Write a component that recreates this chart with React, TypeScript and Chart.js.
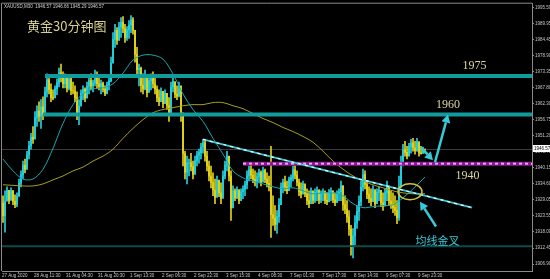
import React, { useEffect, useRef } from 'react';
import { Chart, registerables } from 'chart.js';
Chart.register(...registerables);

// ---- axis data ----
const xTickIdx = [-0.5, 15.5, 31.5, 47.5, 63.5, 79.5, 95.5, 111.5, 127.5, 143.5, 159.5, 175.5, 191.5, 207.5];
const xTickLabels = ['27 Aug 2020', '28 Aug 11:30', '31 Aug 04:30', '31 Aug 20:30', '1 Sep 13:30', '2 Sep 06:30', '2 Sep 22:30', '3 Sep 15:30', '4 Sep 08:30', '7 Sep 01:30', '7 Sep 17:30', '8 Sep 14:30', '9 Sep 07:30', '9 Sep 23:30'];
const yTickValues = [1995.5, 1989.95, 1984.45, 1978.9, 1973.35, 1967.8, 1962.3, 1956.75, 1951.2, 1945.7, 1940.15, 1934.6, 1929.05, 1923.55, 1918.0, 1912.45, 1906.9];
const yMin = 1904.51;
const yMax = 1996.87;
const xMin = -0.5;
const xMax = 264.5;

// ---- candles (XAUUSD M30) ----
const firstOpen = 1928.0;
const high = [
  1930.5, 1932.2, 1933.6, 1932.2, 1933.25, 1932.2, 1930.85, 1931.5, 1936.3, 1939.1,
  1942.5, 1943.2, 1945.9, 1949.3, 1952.1, 1954.45, 1959.6, 1961.6, 1963.0, 1963.7,
  1964.7, 1968.1, 1972.6, 1971.55, 1969.2, 1967.1, 1968.5, 1970.9, 1974.6, 1976.0,
  1973.3, 1972.6, 1971.55, 1972.2, 1971.2, 1969.8, 1968.5, 1966.4, 1963.7, 1967.1,
  1968.5, 1967.8, 1969.8, 1971.9, 1972.6, 1970.5, 1973.9, 1973.3, 1971.9, 1970.5,
  1969.8, 1968.5, 1969.8, 1971.2, 1978.4, 1986.9, 1989.7, 1988.65, 1990.4, 1992.1,
  1992.4, 1989.7, 1989.0, 1991.0, 1992.75, 1992.1, 1987.6, 1981.8, 1976.0, 1975.0,
  1972.6, 1973.9, 1970.5, 1971.55, 1972.6, 1973.3, 1971.9, 1968.5, 1967.1, 1967.8,
  1966.4, 1967.1, 1965.7, 1964.4, 1969.8, 1971.2, 1969.2, 1968.5, 1969.8, 1968.1,
  1957.9, 1945.9, 1944.2, 1943.2, 1945.2, 1942.5, 1944.2, 1945.9, 1946.6, 1948.6,
  1950.0, 1949.3, 1945.9, 1942.5, 1940.8, 1938.4, 1936.3, 1937.35, 1935.6, 1935.0,
  1939.1, 1942.5, 1945.9, 1942.5, 1939.1, 1933.9, 1932.9, 1933.6, 1932.2, 1932.9,
  1933.9, 1935.6, 1939.1, 1940.8, 1941.45, 1939.7, 1939.1, 1938.4, 1939.7, 1939.1,
  1940.4, 1939.7, 1938.4, 1937.35, 1947.6, 1930.5, 1927.1, 1925.4, 1929.5, 1935.0,
  1936.3, 1937.35, 1935.6, 1937.0, 1937.7, 1940.8, 1941.45, 1939.1, 1936.3, 1935.0,
  1935.6, 1934.3, 1932.9, 1932.2, 1933.25, 1932.2, 1932.9, 1933.6, 1932.6, 1932.2,
  1932.9, 1932.2, 1931.5, 1932.6, 1933.25, 1932.2, 1931.5, 1932.2, 1932.9, 1935.6,
  1933.9, 1930.5, 1928.8, 1925.4, 1920.25, 1919.2, 1923.7, 1927.1, 1930.5, 1935.6,
  1939.7, 1939.1, 1935.6, 1933.6, 1932.9, 1933.9, 1932.2, 1932.9, 1933.6, 1932.2,
  1931.5, 1932.9, 1935.6, 1933.6, 1932.2, 1931.5, 1930.5, 1928.8, 1937.35, 1944.2,
  1948.3, 1949.3, 1947.6, 1948.6, 1950.0, 1950.35, 1949.3, 1950.35, 1948.6, 1947.6,
  1947.3, 1946.66,
];
const low = [
  1921.3, 1917.9, 1928.8, 1927.8, 1929.5, 1927.4, 1926.4, 1926.75, 1930.5, 1933.6,
  1936.3, 1938.4, 1940.8, 1943.2, 1946.6, 1948.6, 1951.0, 1954.45, 1956.2, 1953.8,
  1956.8, 1961.3, 1964.7, 1965.7, 1963.0, 1963.7, 1964.4, 1965.4, 1968.1, 1969.8,
  1967.8, 1967.8, 1966.4, 1967.1, 1965.4, 1965.7, 1963.0, 1956.8, 1955.1, 1962.3,
  1963.7, 1963.0, 1964.4, 1965.7, 1967.1, 1966.4, 1968.5, 1967.8, 1967.1, 1965.7,
  1966.4, 1965.05, 1965.7, 1967.1, 1969.8, 1977.4, 1981.8, 1982.8, 1984.2, 1985.2,
  1986.9, 1983.5, 1984.2, 1984.9, 1986.9, 1986.3, 1976.7, 1971.55, 1968.5, 1966.4,
  1965.7, 1967.1, 1964.7, 1966.4, 1967.1, 1967.8, 1965.7, 1963.0, 1961.6, 1963.0,
  1960.95, 1962.3, 1960.3, 1956.2, 1963.0, 1966.4, 1964.4, 1963.7, 1964.7, 1956.2,
  1940.8, 1936.3, 1934.6, 1937.35, 1939.1, 1936.3, 1938.4, 1940.8, 1941.8, 1943.2,
  1945.2, 1942.5, 1939.1, 1935.6, 1933.25, 1930.5, 1927.8, 1931.5, 1930.2, 1927.8,
  1932.2, 1936.3, 1939.1, 1935.6, 1922.0, 1927.1, 1928.8, 1929.5, 1927.8, 1928.8,
  1929.5, 1930.5, 1932.9, 1935.6, 1936.3, 1935.0, 1933.9, 1933.25, 1935.0, 1933.9,
  1935.6, 1935.0, 1933.6, 1932.2, 1916.15, 1920.25, 1918.5, 1917.5, 1921.3, 1928.8,
  1931.5, 1932.2, 1931.2, 1932.9, 1933.6, 1935.6, 1936.3, 1933.9, 1930.5, 1929.8,
  1931.5, 1930.2, 1927.4, 1926.4, 1928.8, 1927.8, 1928.1, 1928.8, 1927.8, 1928.1,
  1928.8, 1927.8, 1927.4, 1928.45, 1928.8, 1928.1, 1927.1, 1928.1, 1928.8, 1928.8,
  1925.4, 1924.35, 1921.3, 1916.8, 1910.0, 1909.0, 1913.4, 1919.2, 1922.0, 1927.1,
  1932.2, 1932.9, 1929.5, 1928.1, 1927.1, 1928.8, 1926.4, 1928.1, 1928.8, 1926.75,
  1925.4, 1927.4, 1928.8, 1927.1, 1926.1, 1924.7, 1923.7, 1920.9, 1922.0, 1933.9,
  1940.8, 1944.2, 1943.2, 1944.2, 1945.2, 1945.9, 1944.9, 1945.9, 1944.2, 1944.9,
  1945.2, 1945.29,
];
const close = [
  1923.6, 1928.6, 1932.4, 1928.9, 1932.3, 1928.6, 1927.5, 1930.3, 1934.9, 1937.7,
  1941.0, 1939.6, 1944.6, 1947.8, 1950.7, 1950.1, 1957.5, 1959.8, 1957.9, 1961.2,
  1958.8, 1966.4, 1970.6, 1967.2, 1964.5, 1964.3, 1967.5, 1969.5, 1973.0, 1971.4,
  1969.2, 1971.4, 1967.7, 1970.9, 1966.8, 1966.7, 1964.4, 1959.2, 1961.5, 1965.9,
  1967.3, 1964.2, 1968.4, 1970.3, 1968.5, 1969.5, 1972.5, 1969.2, 1968.3, 1969.3,
  1967.3, 1965.9, 1968.8, 1970.2, 1976.3, 1984.5, 1987.7, 1984.3, 1988.8, 1990.4,
  1988.3, 1985.1, 1987.8, 1989.5, 1991.3, 1987.7, 1979.4, 1974.1, 1974.5, 1968.6,
  1967.4, 1972.2, 1966.2, 1970.3, 1971.2, 1969.2, 1967.3, 1964.4, 1963.0, 1966.6,
  1962.3, 1965.9, 1961.7, 1958.2, 1968.1, 1970.0, 1965.6, 1964.9, 1968.5, 1959.2,
  1945.1, 1938.7, 1941.8, 1941.9, 1940.6, 1937.9, 1942.7, 1944.6, 1945.4, 1947.3,
  1948.8, 1944.2, 1940.8, 1937.3, 1935.1, 1932.5, 1929.9, 1935.9, 1931.5, 1929.6,
  1937.4, 1941.0, 1944.2, 1937.3, 1926.3, 1932.2, 1929.8, 1932.6, 1928.9, 1931.9,
  1932.8, 1934.3, 1937.5, 1939.5, 1937.6, 1936.2, 1935.2, 1937.1, 1938.5, 1935.2,
  1939.2, 1936.2, 1934.8, 1933.5, 1924.0, 1922.8, 1920.6, 1923.4, 1927.4, 1933.5,
  1935.1, 1933.5, 1932.3, 1936.0, 1936.7, 1939.5, 1937.6, 1935.2, 1932.0, 1931.1,
  1934.6, 1931.2, 1928.8, 1927.8, 1932.1, 1928.9, 1931.7, 1932.4, 1929.0, 1931.2,
  1931.9, 1928.9, 1928.4, 1931.6, 1932.1, 1929.1, 1928.2, 1931.2, 1931.9, 1933.9,
  1927.5, 1925.9, 1923.2, 1919.0, 1912.6, 1916.6, 1921.1, 1925.1, 1928.4, 1933.5,
  1937.8, 1934.4, 1931.0, 1929.5, 1928.5, 1932.6, 1927.8, 1931.7, 1932.4, 1928.1,
  1926.9, 1931.5, 1933.9, 1928.7, 1927.6, 1926.4, 1925.4, 1922.9, 1933.5, 1941.6,
  1946.4, 1945.5, 1944.3, 1947.5, 1948.8, 1947.0, 1946.0, 1949.2, 1945.3, 1945.1,
  1946.6, 1946.57,
];

// ---- moving averages (sampled every 5 bars) ----
const maIdx = [0, 5, 10, 15, 20, 25, 30, 35, 40, 45, 50, 55, 60, 65, 70, 75, 80, 85, 90, 95, 100, 105, 110, 115, 120, 125, 130, 135, 140, 145, 150, 155, 160, 165, 170, 175, 180, 185, 190, 195, 200, 205, 211];
const maFast = [1943.2, 1939.1, 1936.3, 1936.3, 1939.7, 1946.9, 1955.5, 1962.0, 1965.7, 1967.4, 1967.8, 1969.2, 1972.9, 1977.4, 1979.1, 1979.1, 1977.7, 1972.6, 1965.7, 1960.3, 1956.2, 1950.35, 1944.9, 1939.1, 1936.7, 1935.6, 1934.6, 1933.6, 1932.9, 1933.25, 1932.2, 1931.2, 1931.5, 1931.5, 1930.5, 1927.8, 1926.4, 1926.75, 1927.1, 1927.4, 1929.8, 1932.9, 1937.0];
const maSlow = [1934.3, 1934.1, 1933.9, 1933.9, 1934.6, 1936.0, 1937.35, 1939.1, 1940.4, 1942.5, 1944.2, 1946.6, 1950.35, 1953.8, 1956.8, 1959.2, 1960.3, 1960.95, 1961.6, 1962.0, 1962.0, 1962.7, 1962.7, 1961.6, 1960.6, 1958.9, 1957.2, 1955.8, 1954.1, 1952.7, 1951.0, 1949.0, 1945.9, 1942.5, 1939.7, 1937.35, 1935.6, 1934.3, 1933.25, 1932.2, 1931.5, 1931.2, 1931.2];

// ---- drawn objects ----
const currentPrice = 1946.57;
const headerText = 'XAUUSD,M30  1946.57 1946.66 1945.29 1946.57';
const titleText = '黄金30分钟图';
const levelValues = [1971.9, 1958.55, 1913.05];
const levelStartIdx = [21, 20, -0.5];
const magentaLevel = 1941.6;
const magentaStartIdx = 120;
const trendIdx = [100, 234.5];
const trendVal = [1950.0, 1926.4];
const ellipseIdx = 203.5;
const ellipseVal = 1931.87;
// arrows: tail -> tip
const arrowTailIdx = [216, 209, 216.5];
const arrowTailVal = [1942.1, 1947.26, 1919.9];
const arrowTipIdx = [222.5, 215, 208.5];
const arrowTipVal = [1958.55, 1942.8, 1928.45];
const noteTexts = ['1975', '1960', '1940', '均线金叉'];
const noteIdx = [235.75, 222.5, 232.25, 217.25];
const noteVal = [1975.3, 1961.97, 1937.3, 1915.1];

const UP = '#22cede';
const DOWN = '#e0d01a';

const opens = close.map((_, i) => (i === 0 ? firstOpen : close[i - 1]));
const candleColor = close.map((c, i) => (c >= opens[i] ? UP : DOWN));

function drawArrow(ctx: CanvasRenderingContext2D, x1: number, y1: number, x2: number, y2: number, color: string) {
  const ang = Math.atan2(y2 - y1, x2 - x1);
  const head = 8;
  const hw = 4.5;
  const bx = x2 - head * Math.cos(ang);
  const by = y2 - head * Math.sin(ang);
  ctx.strokeStyle = color;
  ctx.lineWidth = 2.5;
  ctx.beginPath();
  ctx.moveTo(x1, y1);
  ctx.lineTo(bx, by);
  ctx.stroke();
  ctx.fillStyle = color;
  ctx.beginPath();
  ctx.moveTo(x2, y2);
  ctx.lineTo(bx + hw * Math.sin(ang), by - hw * Math.cos(ang));
  ctx.lineTo(bx - hw * Math.sin(ang), by + hw * Math.cos(ang));
  ctx.closePath();
  ctx.fill();
}

const overlay = {
  id: 'overlay',
  beforeDatasetsDraw(chart: any) {
    const { ctx, chartArea: a, scales } = chart;
    const y = scales.y;
    ctx.save();
    ctx.beginPath();
    ctx.rect(a.left, a.top, a.right - a.left, a.bottom - a.top);
    ctx.clip();
    const yp = Math.round(y.getPixelForValue(currentPrice)) + 0.5;
    ctx.strokeStyle = '#3c3c3c';
    ctx.lineWidth = 1;
    ctx.beginPath();
    ctx.moveTo(a.left, yp);
    ctx.lineTo(a.right, yp);
    ctx.stroke();
    ctx.restore();
  },
  afterDatasetsDraw(chart: any) {
    const { ctx, chartArea: a, scales } = chart;
    const x = scales.x;
    const y = scales.y;
    ctx.save();
    ctx.beginPath();
    ctx.rect(a.left, a.top, a.right - a.left, a.bottom - a.top);
    ctx.clip();
    levelValues.forEach((v, i) => {
      const yp = y.getPixelForValue(v);
      const xs = x.getPixelForValue(levelStartIdx[i]);
      ctx.strokeStyle = i === 2 ? '#0f4a4a' : '#109c9c';
      ctx.lineWidth = i === 2 ? 2 : 4;
      ctx.beginPath();
      ctx.moveTo(xs, yp);
      ctx.lineTo(a.right, yp);
      ctx.stroke();
    });
    {
      const yp = y.getPixelForValue(magentaLevel);
      const xs = x.getPixelForValue(magentaStartIdx);
      ctx.strokeStyle = '#8c1896';
      ctx.lineWidth = 4;
      ctx.beginPath();
      ctx.moveTo(xs, yp);
      ctx.lineTo(a.right, yp);
      ctx.stroke();
      ctx.strokeStyle = '#e6a8ee';
      ctx.lineWidth = 2;
      ctx.setLineDash([3, 3]);
      ctx.beginPath();
      ctx.moveTo(xs, yp);
      ctx.lineTo(a.right, yp);
      ctx.stroke();
      ctx.setLineDash([]);
    }
    {
      const x1 = x.getPixelForValue(trendIdx[0]);
      const y1 = y.getPixelForValue(trendVal[0]);
      const x2 = x.getPixelForValue(trendIdx[1]);
      const y2 = y.getPixelForValue(trendVal[1]);
      ctx.strokeStyle = '#3cc4d4';
      ctx.lineWidth = 2;
      ctx.beginPath();
      ctx.moveTo(x1, y1);
      ctx.lineTo(x2, y2);
      ctx.stroke();
      ctx.strokeStyle = '#e8ffff';
      ctx.lineWidth = 1.2;
      ctx.setLineDash([3, 4]);
      ctx.beginPath();
      ctx.moveTo(x1, y1);
      ctx.lineTo(x2, y2);
      ctx.stroke();
      ctx.setLineDash([]);
    }
    {
      const cx = x.getPixelForValue(ellipseIdx);
      const cy = y.getPixelForValue(ellipseVal);
      ctx.strokeStyle = '#d2c23c';
      ctx.lineWidth = 1.5;
      ctx.beginPath();
      ctx.ellipse(cx, cy, 12, 8, 0, 0, Math.PI * 2);
      ctx.stroke();
    }
    arrowTailIdx.forEach((ti, i) => {
      drawArrow(
        ctx,
        x.getPixelForValue(ti),
        y.getPixelForValue(arrowTailVal[i]),
        x.getPixelForValue(arrowTipIdx[i]),
        y.getPixelForValue(arrowTipVal[i]),
        '#38cad8'
      );
    });
    ctx.textAlign = 'center';
    ctx.textBaseline = 'middle';
    noteTexts.forEach((t, i) => {
      const px = x.getPixelForValue(noteIdx[i]);
      const py = y.getPixelForValue(noteVal[i]);
      if (i < 3) {
        ctx.font = '12px "Liberation Serif", serif';
        ctx.fillStyle = '#dcd69c';
      } else {
        ctx.font = '11px "Noto Sans CJK SC", sans-serif';
        ctx.fillStyle = '#38cad8';
      }
      ctx.fillText(t, px, py);
    });
    ctx.restore();
  },
  afterDraw(chart: any) {
    const { ctx, chartArea: a, scales } = chart;
    const y = scales.y;
    ctx.save();
    ctx.strokeStyle = '#8a8a8a';
    ctx.lineWidth = 1;
    ctx.beginPath();
    ctx.moveTo(a.left - 0.5, a.bottom);
    ctx.lineTo(a.left - 0.5, a.top - 0.5);
    ctx.lineTo(a.right, a.top - 0.5);
    ctx.stroke();
    ctx.font = '4.5px "Liberation Sans", sans-serif';
    ctx.fillStyle = '#d0d0d0';
    ctx.textAlign = 'left';
    ctx.textBaseline = 'middle';
    ctx.fillText(headerText, a.left + 2, a.top + 3.5);
    ctx.font = '13px "Noto Sans CJK SC", sans-serif';
    ctx.fillStyle = '#d8d08c';
    ctx.fillText(titleText, a.left + 25, a.top + 22);
    const py = Math.round(y.getPixelForValue(currentPrice));
    ctx.fillStyle = '#ffffff';
    ctx.fillRect(a.right + 1, py - 4, 550 - a.right - 1, 7);
    ctx.fillStyle = '#000000';
    ctx.font = '4.5px "Liberation Sans", sans-serif';
    ctx.fillText(currentPrice.toFixed(2), a.right + 2, py);
    ctx.restore();
  },
};

export default function App() {
  const ref = useRef<HTMLCanvasElement | null>(null);
  useEffect(() => {
    document.body.style.margin = '0';
    document.body.style.background = '#000';
    const canvas = ref.current!;
    const chart = new Chart(canvas, {
      type: 'bar',
      data: {
        datasets: [
          {
            type: 'line',
            label: 'MA fast',
            data: maIdx.map((v, i) => ({ x: v, y: maFast[i] })),
            borderColor: '#1aa6b0',
            borderWidth: 1,
            pointRadius: 0,
            tension: 0.35,
            order: 1,
          } as any,
          {
            type: 'line',
            label: 'MA slow',
            data: maIdx.map((v, i) => ({ x: v, y: maSlow[i] })),
            borderColor: '#aa9c1c',
            borderWidth: 1,
            pointRadius: 0,
            tension: 0.35,
            order: 1,
          } as any,
          {
            type: 'bar',
            label: 'wick',
            data: high.map((h, i) => ({ x: i, y: [low[i], h] })),
            backgroundColor: candleColor,
            barThickness: 1,
            grouped: false,
            order: 3,
          } as any,
          {
            type: 'bar',
            label: 'body',
            data: close.map((c, i) => ({ x: i, y: [opens[i], c] })),
            backgroundColor: candleColor,
            barThickness: 1.3,
            grouped: false,
            order: 2,
          } as any,
        ],
      },
      options: {
        animation: false,
        responsive: false,
        maintainAspectRatio: false,
        events: [],
        layout: { padding: { left: 2, top: 1, right: 0, bottom: 0 } },
        plugins: { legend: { display: false }, tooltip: { enabled: false } },
        scales: {
          x: {
            type: 'linear',
            min: xMin,
            max: xMax,
            offset: false,
            grid: { display: true, drawOnChartArea: false, tickLength: 2, color: '#8a8a8a' },
            border: { display: true, color: '#8a8a8a' },
            afterBuildTicks: (s: any) => {
              s.ticks = xTickIdx.map((v) => ({ value: v }));
            },
            afterFit: (s: any) => {
              s.height = 8;
            },
            ticks: {
              autoSkip: false,
              maxRotation: 0,
              align: 'start',
              padding: 0,
              color: '#c8c8c8',
              font: { size: 4.5, family: '"Liberation Sans", sans-serif' },
              callback: (_v: any, i: number) => xTickLabels[i],
            },
          } as any,
          y: {
            position: 'right',
            min: yMin,
            max: yMax,
            beginAtZero: false,
            grid: { display: true, drawOnChartArea: false, tickLength: 2, color: '#8a8a8a' },
            border: { display: true, color: '#8a8a8a' },
            afterBuildTicks: (s: any) => {
              s.ticks = yTickValues.map((v) => ({ value: v }));
            },
            afterFit: (s: any) => {
              s.width = 18;
            },
            ticks: {
              padding: 1,
              color: '#c8c8c8',
              font: { size: 4.5, family: '"Liberation Sans", sans-serif' },
              callback: (v: any) => Number(v).toFixed(2),
            },
          } as any,
        },
      },
      plugins: [overlay],
    });
    return () => chart.destroy();
  }, []);
  return <canvas ref={ref} width={550} height={279} style={{ display: 'block' }} />;
}
